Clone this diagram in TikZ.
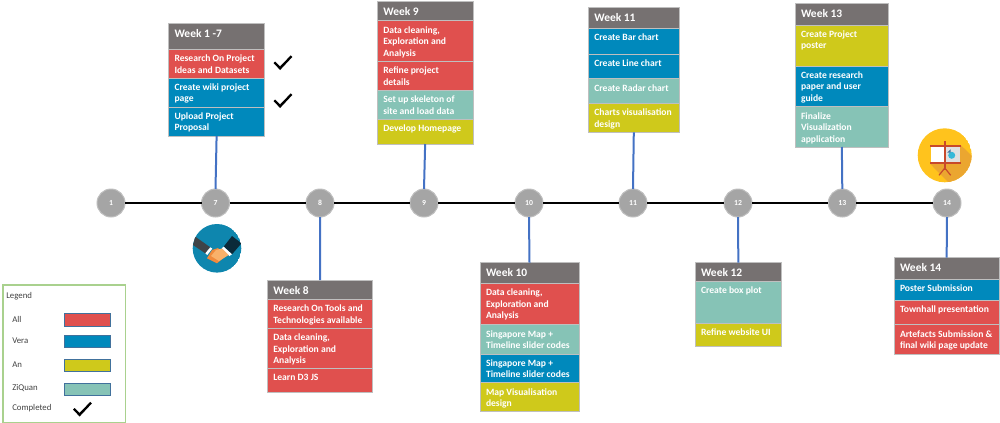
\documentclass[tikz,border=0pt]{standalone}
\usepackage{fontspec}
\setmainfont{Carlito}
\definecolor{cred}{HTML}{E0504E}
\definecolor{cblue}{HTML}{0089BC}
\definecolor{cyellow}{HTML}{CFC91B}
\definecolor{cteal}{HTML}{86C3B6}
\definecolor{chead}{HTML}{767171}
\definecolor{cline}{HTML}{BFBFBF}
\definecolor{cdot}{HTML}{A5A5A5}
\definecolor{clink}{HTML}{4472C4}
\definecolor{cgreen}{HTML}{A9D18E}
\definecolor{cswatch}{HTML}{41719C}
\definecolor{ctext}{HTML}{404040}
\definecolor{iconteal}{HTML}{0E86AE}
\definecolor{sleevea}{HTML}{3F4347}
\definecolor{sleeveb}{HTML}{0B2A3A}
\definecolor{handa}{HTML}{F9B16A}
\definecolor{handb}{HTML}{F08A3C}
\definecolor{iconyellow}{HTML}{FFC31D}
\definecolor{iconshadow}{HTML}{EBA630}
\definecolor{iconbar}{HTML}{C8492A}
\definecolor{iconpie}{HTML}{35B8D8}
\tikzset{
  cell/.style={draw=cline,line width=0.75pt,inner xsep=4.5pt,inner ysep=0pt,outer sep=0pt,anchor=north west,text=white,font=\fontsize{7.2}{8.7}\selectfont\bfseries},
  dot/.style={circle,draw=cline,line width=0.75pt,fill=cdot,minimum size=21pt,inner sep=0pt,outer sep=0pt,text=white,font=\fontsize{5.8}{6}\selectfont\bfseries},
  link/.style={draw=clink,line width=1.5pt},
  axis/.style={draw=black,line width=1.5pt},
  swatch/.style={draw=cswatch,line width=0.75pt,minimum width=34.5pt,minimum height=9.6pt,inner sep=0pt,anchor=north west},
  legtext/.style={text=ctext,anchor=west,inner sep=0pt,font=\fontsize{6.6}{7}\selectfont},
  tick/.style={fill=black,draw=none}
}
\newcommand{\cellbox}[8]{%
  \pgfmathsetlengthmacro\cw{(#4-#2)*0.75-9}%
  \pgfmathsetlengthmacro\ch{(#5-#3)*0.75}%
  \node[cell,fill=#6] (#1) at (#2,#3) {\parbox[c][\ch][t]{\cw}{\vspace{#7}\raggedright #8\par}};%
}
\newcommand{\headbox}[6]{\cellbox{#1}{#2}{#3}{#4}{#5}{chead}{4.6pt}{\fontsize{8.6}{10}\selectfont #6}}
\newcommand{\tickmark}[2]{\fill[tick,shift={(#1,#2)}] (0,0) -- (1.5,-1.5) -- (6.6,3.4) -- (17.2,-7.6) -- (18.8,-6) -- (6.6,7) -- cycle;}
\begin{document}
\begin{tikzpicture}[x=0.75pt,y=-0.75pt]
\useasboundingbox (0,0) rectangle (1000,422);
% timeline
\foreach \n/\x in {1/111,7/215.5,8/320,9/424,10/529,11/633,12/738,13/842.3,14/947}{
  \node[dot] (c\n) at (\x,203) {\n};
}
\draw[axis] (c1) -- (c7);
\draw[axis] (c7) -- (c8);
\draw[axis] (c8) -- (c9);
\draw[axis] (c9) -- (c10);
\draw[axis] (c10) -- (c11);
\draw[axis] (c11) -- (c12);
\draw[axis] (c12) -- (c13);
\draw[axis] (c13) -- (c14);
% Week 1-7
\headbox{h7}{168.5}{23.3}{264.7}{49.3}{Week 1 -7}
\cellbox{a7}{168.5}{49.3}{264.7}{78}{cred}{4.2pt}{Research On Project Ideas and Datasets}
\cellbox{b7}{168.5}{78}{264.7}{107}{cblue}{4.2pt}{Create wiki project page}
\cellbox{d7}{168.5}{107}{264.7}{136}{cblue}{4.2pt}{Upload Project Proposal}
% Week 8
\headbox{h8}{267.3}{280}{372.7}{299.3}{Week 8}
\cellbox{a8}{267.3}{299.3}{372.7}{328.3}{cred}{4.2pt}{Research On Tools and Technologies available}
\cellbox{b8}{267.3}{328.3}{372.7}{368.3}{cred}{4.2pt}{Data cleaning, Exploration and Analysis}
\cellbox{d8}{267.3}{368.3}{372.7}{392.3}{cred}{4.2pt}{Learn D3 JS}
% Week 9
\headbox{h9}{377.3}{1}{473}{20.7}{Week 9}
\cellbox{a9}{377.3}{20.7}{473}{61.3}{cred}{4.2pt}{Data cleaning, Exploration and Analysis}
\cellbox{b9}{377.3}{61.3}{473}{90.3}{cred}{4.2pt}{Refine project details}
\cellbox{d9}{377.3}{90.3}{473}{119.3}{cteal}{4.2pt}{Set up skeleton of site and load data}
\cellbox{e9}{377.3}{119.3}{473}{144}{cyellow}{4.2pt}{Develop Homepage}
% Week 10
\headbox{h10}{480}{262.7}{579}{283.3}{Week 10}
\cellbox{a10}{480}{283.3}{579}{324.7}{cred}{4.2pt}{Data cleaning, Exploration and Analysis}
\cellbox{b10}{480}{324.7}{579}{354}{cteal}{4.2pt}{Singapore Map + Timeline slider codes}
\cellbox{d10}{480}{354}{579}{382.7}{cblue}{4.2pt}{Singapore Map + Timeline slider codes}
\cellbox{e10}{480}{382.7}{579}{411.7}{cyellow}{4.2pt}{Map Visualisation design}
% Week 11
\headbox{h11}{588.3}{7}{679.3}{28.3}{Week 11}
\cellbox{a11}{588.3}{28.3}{679.3}{54.3}{cblue}{4.2pt}{Create Bar chart}
\cellbox{b11}{588.3}{54.3}{679.3}{78.7}{cblue}{4.2pt}{Create Line chart}
\cellbox{d11}{588.3}{78.7}{679.3}{103.3}{cteal}{4.2pt}{Create Radar chart}
\cellbox{e11}{588.3}{103.3}{679.3}{132.3}{cyellow}{4.2pt}{Charts visualisation design}
% Week 12
\headbox{h12}{695}{262.7}{781.7}{281.3}{Week 12}
\cellbox{a12}{695}{281.3}{781.7}{323}{cteal}{4.2pt}{Create box plot}
\cellbox{b12}{695}{323}{781.7}{346.7}{cyellow}{4.2pt}{Refine website UI}
% Week 13
\headbox{h13}{795}{3.7}{888.7}{25}{Week 13}
\cellbox{a13}{795}{25}{888.7}{66}{cyellow}{4.2pt}{Create Project poster}
\cellbox{b13}{795}{66}{888.7}{106.7}{cblue}{4.2pt}{Create research paper and user guide}
\cellbox{d13}{795}{106.7}{888.7}{147}{cteal}{4.2pt}{Finalize\\ Visualization application}
% Week 14
\headbox{h14}{894}{257.7}{999.3}{279}{Week 14}
\cellbox{a14}{894}{279}{999.3}{300.3}{cblue}{4.2pt}{Poster Submission}
\cellbox{b14}{894}{300.3}{999.3}{324.7}{cred}{4.2pt}{Townhall presentation}
\cellbox{d14}{894}{324.7}{999.3}{354}{cred}{4.2pt}{Artefacts Submission \& final wiki page update}
% links
\draw[link] (d7.south) -- (c7.north);
\draw[link] (c8.south) -- (h8.north);
\draw[link] (e9.south) -- (c9.north);
\draw[link] (c10.south) -- (h10.north);
\draw[link] (e11.south) -- (c11.north);
\draw[link] (c12.south) -- (h12.north);
\draw[link] (d13.south) -- (c13.north);
\draw[link] (c14.south) -- (h14.north);
% ticks
\tickmark{273.5}{63}
\tickmark{273.5}{101}
% handshake icon
\begin{scope}
\clip (217,248.3) circle (24.3);
\fill[iconteal] (217,248.3) circle (24.3);
\fill[sleevea] (195.3,236.7) -- (210.3,247.3) -- (205.3,253.3) -- (193,245) -- cycle;
\fill[sleeveb] (232,236) -- (241.5,243.3) -- (232,254.3) -- (223.7,246.7) -- cycle;
\fill[white] (205.3,253.3) -- (210.3,247.3) -- (212.3,248.6) -- (207.3,255) -- cycle;
\fill[white] (232,254.3) -- (223.7,246.7) -- (221.7,248.3) -- (229.5,256) -- cycle;
\fill[handb] (212,250) -- (218,248) -- (226,256) -- (217,263.3) -- (207,258.3) -- cycle;
\fill[handa] (216,250) -- (222,248.5) -- (228.7,255) -- (219,261) -- (211,256) -- cycle;
\end{scope}
% presentation icon
\begin{scope}
\clip (944.7,155.3) circle (27);
\fill[iconyellow] (944.7,155.3) circle (27);
\fill[iconshadow] (930,163.7) -- (960.7,145) -- (982,166) -- (960,190) -- (948,182) -- cycle;
\fill[white] (931,147) rectangle (945.7,162);
\fill[black!12] (945.7,147) rectangle (960,162);
\fill[iconpie] (951.7,155.3) circle (3.5);
\fill[cswatch] (947.2,152.6) -- (950.5,149.4) -- (950.5,152.6) -- cycle;
\fill[iconbar] (930,145) rectangle (960.7,147);
\fill[iconbar] (930,162) rectangle (960.7,163.7);
\fill[iconbar] (944,141.3) rectangle (945.6,170);
\draw[iconbar,line width=0.9pt] (944.8,168) -- (939,175.3) (944.8,168) -- (950.7,175.3);
\end{scope}
% legend
\node[draw=cgreen,line width=0.9pt,minimum width=92pt,minimum height=103pt,inner sep=0pt,anchor=north west] (legend) at (2.3,284.3) {};
\node[legtext] (lt) at (6,296) {Legend};
\node[legtext] (l1) at (12,319) {All};
\node[legtext] (l2) at (12,341) {Vera};
\node[legtext] (l3) at (12,365) {An};
\node[legtext] (l4) at (12,388) {ZiQuan};
\node[legtext] (l5) at (12,408) {Completed};
\node[swatch,fill=cred] (s1) at (63.5,313) {};
\node[swatch,fill=cblue] (s2) at (63.5,334.5) {};
\node[swatch,fill=cyellow] (s3) at (63.5,358.5) {};
\node[swatch,fill=cteal] (s4) at (63.5,382.5) {};
\tickmark{73}{409.5}
\end{tikzpicture}
\end{document}
